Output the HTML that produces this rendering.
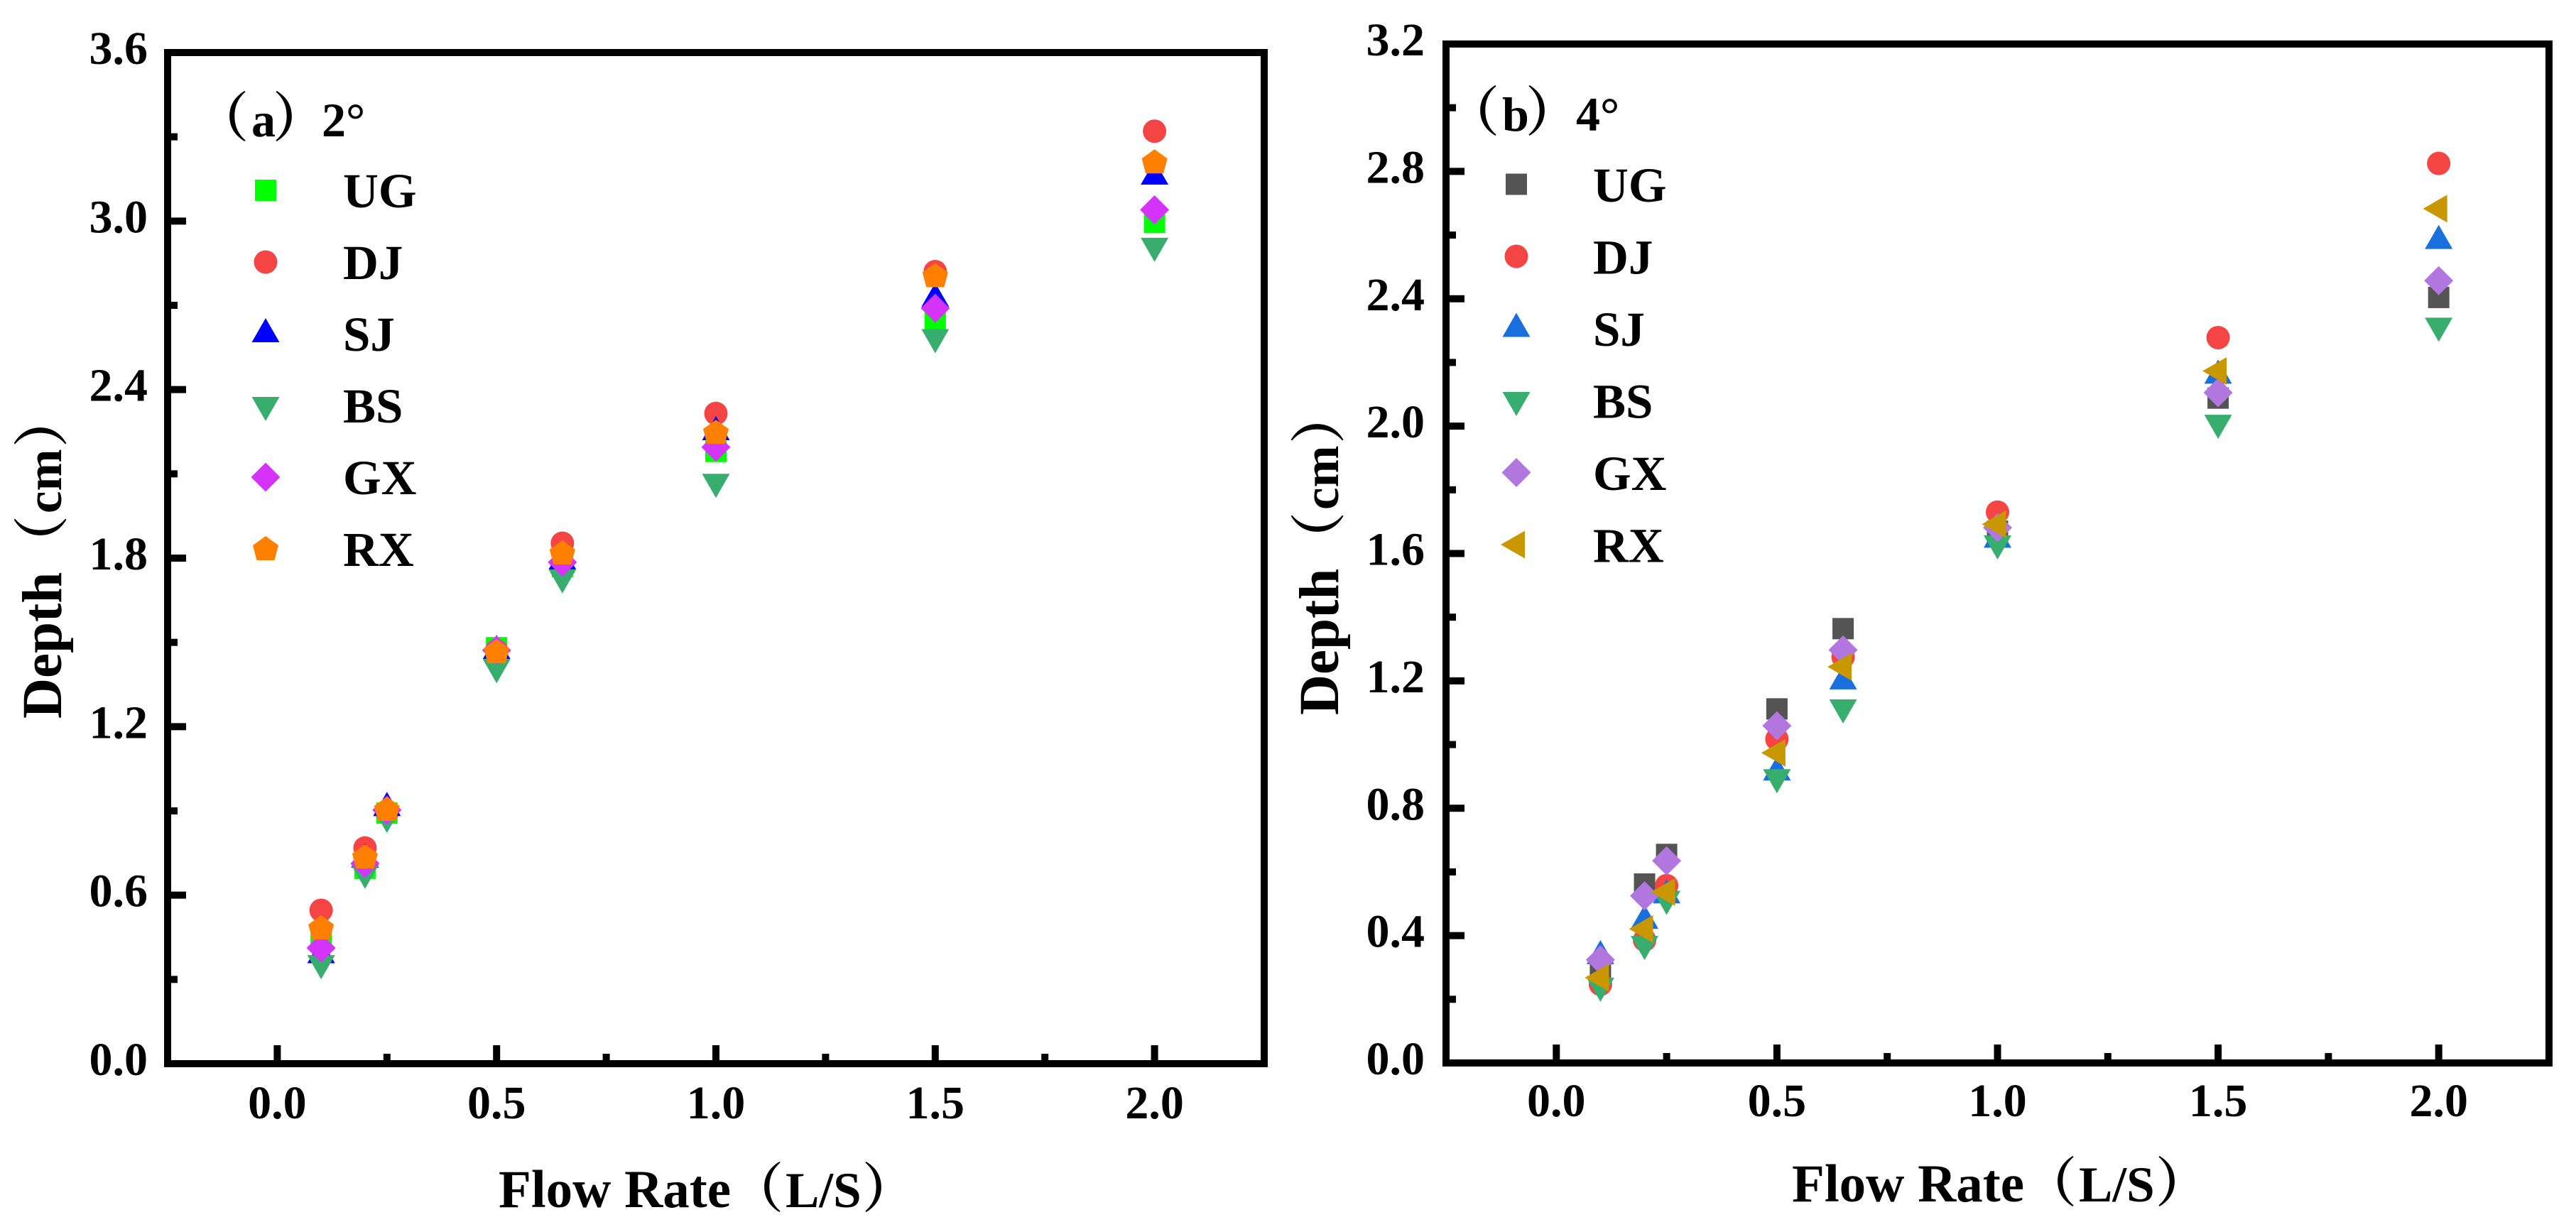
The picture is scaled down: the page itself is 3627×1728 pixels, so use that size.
<!DOCTYPE html>
<html lang="en">
<head>
<meta charset="utf-8">
<title>Depth vs Flow Rate</title>
<style>
html,body{margin:0;padding:0;background:#fff;}
body{width:3627px;height:1728px;overflow:hidden;}
svg{display:block;}
text{font-family:"Liberation Serif","Noto Serif CJK SC",serif;font-weight:bold;fill:#000;}
</style>
</head>
<body>
<svg id="figure" xmlns="http://www.w3.org/2000/svg" width="3627" height="1728" viewBox="0 0 3627 1728">
<rect x="0" y="0" width="3627" height="1728" fill="#ffffff"/>
</svg>
<script>
// Shared categories
const flowRates = [0.1, 0.2, 0.25, 0.5, 0.65, 1.0, 1.5, 2.0];
const seriesNames = ["UG", "DJ", "SJ", "BS", "GX", "RX"];
const xTickLabels = ["0.0", "0.5", "1.0", "1.5", "2.0"];
const xMinorTicks = [0.25, 0.75, 1.25, 1.75];

// Panel (a) 2 degrees
const a_UG = [0.44, 0.695, 0.892, 1.481, 1.77, 2.18, 2.65, 2.995];
const a_DJ = [0.546, 0.768, 0.895, 1.47, 1.853, 2.315, 2.82, 3.32];
const a_SJ = [0.388, 0.728, 0.912, 1.471, 1.79, 2.25, 2.725, 3.16];
const a_BS = [0.356, 0.678, 0.877, 1.41, 1.73, 2.07, 2.585, 2.91];
const a_GX = [0.412, 0.713, 0.903, 1.472, 1.785, 2.195, 2.69, 3.04];
const a_RX = [0.483, 0.735, 0.905, 1.466, 1.818, 2.247, 2.805, 3.21];
const aYTickLabels = ["0.0", "0.6", "1.2", "1.8", "2.4", "3.0", "3.6"];
const aYMinorTicks = [0.3, 0.9, 1.5, 2.1, 2.7, 3.3];

// Panel (b) 4 degrees
const b_UG = [0.287, 0.562, 0.655, 1.112, 1.364, 1.67, 2.088, 2.404];
const b_DJ = [0.247, 0.386, 0.557, 1.017, 1.275, 1.73, 2.278, 2.825];
const b_SJ = [0.337, 0.448, 0.528, 0.914, 1.2, 1.645, 2.16, 2.583];
const b_BS = [0.241, 0.372, 0.514, 0.896, 1.115, 1.63, 2.009, 2.314];
const b_GX = [0.324, 0.525, 0.635, 1.059, 1.297, 1.681, 2.105, 2.457];
const b_RX = [0.268, 0.421, 0.537, 0.974, 1.244, 1.692, 2.173, 2.683];
const bYTickLabels = ["0.0", "0.4", "0.8", "1.2", "1.6", "2.0", "2.4", "2.8", "3.2"];
const bYMinorTicks = [0.2, 0.6, 1.0, 1.4, 1.8, 2.2, 2.6, 3.0];

const svgNS = "http://www.w3.org/2000/svg";
const figure = document.getElementById("figure");

function make(tag, attrs, parent) {
  const el = document.createElementNS(svgNS, tag);
  for (const k in attrs) el.setAttribute(k, attrs[k]);
  (parent || figure).appendChild(el);
  return el;
}

function label(str, x, y, size, anchor, parent) {
  const t = make("text", { x: x, y: y, "font-size": size, "text-anchor": anchor || "start" }, parent);
  t.textContent = str;
  return t;
}

// Text made of runs placed along its own axis; each run is [string, offset, size].
function runs(parts, x, y, parent, rotate) {
  const attrs = { x: x, y: y };
  if (rotate) attrs.transform = "rotate(-90 " + x + " " + y + ")";
  const t = make("text", attrs, parent);
  parts.forEach(function (p) {
    const s = make("tspan", { x: x + p[1], y: y, "font-size": p[2] }, t);
    s.textContent = p[0];
  });
  return t;
}

function marker(kind, cx, cy, color, parent) {
  const poly = function (pts) {
    return make("polygon", {
      points: pts.map(function (p) { return (cx + p[0]) + "," + (cy + p[1]); }).join(" "),
      fill: color
    }, parent);
  };
  if (kind === "square") return make("rect", { x: cx - 15, y: cy - 15, width: 30, height: 30, fill: color }, parent);
  if (kind === "circle") return make("circle", { cx: cx, cy: cy, r: 16.5, fill: color }, parent);
  if (kind === "up") return poly([[0, -22], [19.5, 12], [-19.5, 12]]);
  if (kind === "down") return poly([[0, 22], [19.5, -12], [-19.5, -12]]);
  if (kind === "diamond") return poly([[0, -20.5], [20.5, 0], [0, 20.5], [-20.5, 0]]);
  if (kind === "pentagon") return poly([[0, -18], [18, -5], [12.5, 16], [-12.5, 16], [-18, -5]]);
  if (kind === "left") return poly([[-22, 0], [12, -19.5], [12, 19.5]]);
}

function drawPanel(id, box, yMax, yLabels, yMinor, values, kinds, colors, text, legend) {
  const g = make("g", {});
  
  

  const xOf = function (v) { return box.left + (v + 0.25) / 2.5 * (box.right - box.left); };
  const yOf = function (v) { return box.bottom - v / yMax * (box.bottom - box.top); };

  // y ticks
  yLabels.forEach(function (s) {
    const v = parseFloat(s);
    const y = yOf(v);
    const tick = make("line", { x1: box.left, x2: box.left + 26, y1: y, y2: y, stroke: "#000", "stroke-width": 10 }, g);
    
    
    const t = label(s, box.tickRight, y + 16, 66, "end", g);
    
    
  });
  yMinor.forEach(function (v) {
    const y = yOf(v);
    const tick = make("line", { x1: box.left, x2: box.left + 14, y1: y, y2: y, stroke: "#000", "stroke-width": 10 }, g);
    
    
  });

  // x ticks
  xTickLabels.forEach(function (s) {
    const v = parseFloat(s);
    const x = xOf(v);
    const tick = make("line", { x1: x, x2: x, y1: box.bottom, y2: box.bottom - 26, stroke: "#000", "stroke-width": 10 }, g);
    
    
    const t = label(s, x, box.xLabelY, 66, "middle", g);
    
    
  });
  xMinorTicks.forEach(function (v) {
    const x = xOf(v);
    const tick = make("line", { x1: x, x2: x, y1: box.bottom, y2: box.bottom - 14, stroke: "#000", "stroke-width": 10 }, g);
    
    
  });

  // frame
  const frame = make("rect", {
    x: box.left, y: box.top, width: box.right - box.left, height: box.bottom - box.top,
    fill: "none", stroke: "#000", "stroke-width": 10
  }, g);
  
  

  // data points
  seriesNames.forEach(function (name, i) {
    const sg = make("g", {}, g);
    
    
    values[i].forEach(function (v, j) {
      const m = marker(kinds[i], xOf(flowRates[j]), yOf(v), colors[i], sg);
      
      
    });
  });

  // legend
  seriesNames.forEach(function (name, i) {
    const lg = make("g", {}, g);
    
    
    marker(kinds[i], legend.markerX, legend.markerY + i * legend.step, colors[i], lg);
    label(name, legend.textX, legend.textY + i * legend.step, 69, "start", lg);
  });

  // texts
  const title = runs(text.title, text.titleX, text.titleY, g, false);
  
  
  const xt = runs([["Flow Rate", 0, 75], ["（", 326, 75], ["L/S", 404, 71], ["）", 512, 75]], text.xTitleX, text.xTitleY, g, false);
  
  
  const yt = runs([["Depth", 0, 79], ["（", 208, 78], ["cm", 289, 71], ["）", 382, 78]], text.yTitleX, text.yTitleY, g, true);
  
  
}

drawPanel(
  "panel-a",
  { left: 236, right: 1780, top: 74, bottom: 1498, tickRight: 208, xLabelY: 1575 },
  3.6, aYTickLabels, aYMinorTicks,
  [a_UG, a_DJ, a_SJ, a_BS, a_GX, a_RX],
  ["square", "circle", "up", "down", "diamond", "pentagon"],
  ["#00ff00", "#f44444", "#0000ff", "#38ae6e", "#d633fa", "#ff8000"],
  { title: [["（", -1, 75], ["a", 78, 68], ["）", 108, 75], ["2°", 177, 68]], titleX: 276, titleY: 192, xTitleX: 702, xTitleY: 1700, yTitleX: 86, yTitleY: 1012 },
  { markerX: 374, markerY: 268, step: 101, textX: 483, textY: 292 }
);

drawPanel(
  "panel-b",
  { left: 2036, right: 3589, top: 62, bottom: 1497, tickRight: 2006, xLabelY: 1572 },
  3.2, bYTickLabels, bYMinorTicks,
  [b_UG, b_DJ, b_SJ, b_BS, b_GX, b_RX],
  ["square", "circle", "up", "down", "diamond", "left"],
  ["#545454", "#f44444", "#1a6fdf", "#38ae6e", "#b177de", "#c99700"],
  { title: [["（", -1, 75], ["b", 78, 68], ["）", 111, 75], ["4°", 182, 68]], titleX: 2037, titleY: 184, xTitleX: 2523, xTitleY: 1692, yTitleX: 1884, yTitleY: 1007 },
  { markerX: 2135, markerY: 259.5, step: 101.5, textX: 2243, textY: 284 }
);
</script>
</body>
</html>
